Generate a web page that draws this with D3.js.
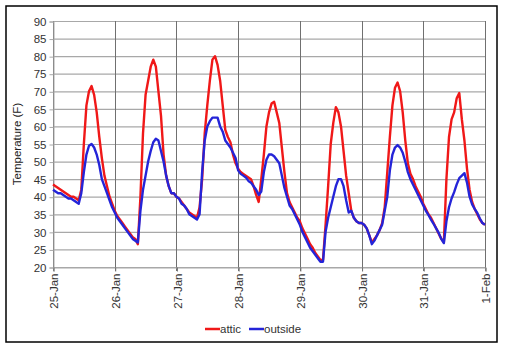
<!DOCTYPE html>
<html><head><meta charset="utf-8">
<script src="https://cdn.jsdelivr.net/npm/d3@7"></script>
<style>body{margin:0;background:#fff}svg{display:block}text{font-family:"Liberation Sans",Arial,sans-serif}</style>
</head><body><svg id="c" width="505" height="348"></svg>
<script>
const dayLabels = ["25-Jan","26-Jan","27-Jan","28-Jan","29-Jan","30-Jan","31-Jan","1-Feb"];
const yTicks = [20,25,30,35,40,45,50,55,60,65,70,75,80,85,90];
// hourly readings starting 25-Jan 00:00
const attic = [43.5,43,42.5,42,41.5,41,40.5,40,40,39.5,39,42,55,66,70,71.5,69,64,57,51,46,43,40,38,
36,34.5,33.5,32.5,31.5,30.5,29.5,28.5,28,26.5,40,58,69,73,77,79,77,70,63,52,46,43,41,41,
40,39.5,38.5,37.5,36.5,35.5,35,34.5,34,37,45,58,66,73,79,80,77.5,73,66,59,57,55.5,52,49.5,
48,47,46.5,46,45.5,45,43,40.5,38.5,45,52,60,64,66.5,67,64,61,54,47,41,38.5,37,35.5,34,
33,31,29.5,28,26.5,25.5,24,23,22,22,32,43,55,61,65.5,64,60,53,46,41,36,34,33,32.5,
32.5,32,31,29,27,28,29,30.5,32.5,37,47,57,66,71,72.5,70,64,56,49.5,46.5,45,43,41.5,40,
38,36.5,35,34,32.5,31,29.5,28,27,45,57,62,64,68,69.5,62,56,48,42,38.5,36.5,35,33.5,32.5,32];
const outside = [42,41.5,41,41,40.5,40,39.5,39.5,39,38.5,38,41,47,52,54.5,55,54,52,49,45,43,41,39,37,
35.5,34,33,32,31,30,29,28,27.5,27,36,42,46,50,53,55.5,56.5,56,53,50,46,43,41,41,
40,39.5,38,37.5,36.5,35,34.5,34,33.5,35,47,56,60,61.5,62.5,62.5,62.5,60,58.5,56,55,54,52.5,51,
47.5,46.5,46,45.5,44.5,44,43,42,40.5,41.5,47,50.5,52,52,51.5,50.5,49.5,46,42.5,40,37.5,36.5,35,33.5,
32,30,28.5,27,25.5,24.5,23.5,22.5,21.5,21.5,30,34,37,40,43,45,45,43,39,35.5,36,34,33,32.5,
32.5,32,31,29,26.5,27.5,29,30.5,32,36,40,47.5,52,54,54.7,54,52.5,50,47,45,43.5,42,40.5,39,
37.5,36,34.8,33.5,32.3,31,29.7,28,26.8,33,37,39.5,41.3,43.5,45.3,46,46.7,44,40,37.8,36.5,35.4,33.8,32.5,32];
const seriesNames = ["attic","outside"];
const seriesColors = ["#f01818","#2424d8"];

const svg = d3.select("#c");
svg.append("rect").attr("x",6).attr("y",6).attr("width",491).attr("height",336)
  .attr("fill","#fff").attr("stroke","#000").attr("stroke-width",1.5);

const L=53,R=485,T=21,B=267;
const x = d3.scaleLinear().domain([0,168]).range([L,R]);
const y = d3.scaleLinear().domain([20,90]).range([B,T]);

// horizontal grid
svg.append("g").selectAll("line").data(yTicks).join("line")
  .attr("x1",L).attr("x2",R).attr("y1",d=>y(d)+0.5).attr("y2",d=>y(d)+0.5)
  .attr("stroke","#a8a8a8").attr("stroke-width",1.2);
// vertical grid
svg.append("g").selectAll("line").data(dayLabels.map((d,i)=>i)).join("line")
  .attr("x1",d=>Math.round(x(d*24))+0.5).attr("x2",d=>Math.round(x(d*24))+0.5).attr("y1",T).attr("y2",B+4)
  .attr("stroke","#707070").attr("stroke-width",1);

// y axis
const ya = d3.axisLeft(y).tickValues(yTicks).tickSize(4).tickPadding(3);
const gy = svg.append("g").attr("transform",`translate(${L+0.5},0.5)`).call(ya);
gy.select(".domain").attr("stroke","#a8a8a8");
gy.selectAll(".tick line").attr("stroke","#a8a8a8");
gy.selectAll("text").attr("font-size",11.5).attr("fill","#333");

// x axis
const xa = d3.axisBottom(x).tickValues(d3.range(0,169,24)).tickFormat((d,i)=>dayLabels[i]).tickSize(4).tickPadding(3);
const gx = svg.append("g").attr("transform",`translate(0.5,${B+0.5})`).call(xa);
gx.select(".domain").attr("stroke","#a8a8a8");
gx.selectAll(".tick line").attr("stroke","#707070");
gx.selectAll("text").attr("font-size",11.5).attr("fill","#333")
  .attr("transform","rotate(-90)").attr("text-anchor","end").attr("dx",0).attr("dy","0.36em").attr("y",0).attr("x",-6);

// title
svg.append("text").attr("transform","translate(21,144) rotate(-90)").attr("text-anchor","middle")
  .attr("font-size",11.5).attr("fill","#222").text("Temperature (F)");

const line = d3.line().x((d,i)=>x(i)).y(d=>y(d));
[attic,outside].forEach((s,k)=>{
  svg.append("path").datum(s).attr("d",line).attr("fill","none")
    .attr("stroke",seriesColors[k]).attr("stroke-width",2.4).attr("stroke-linejoin","round");
});

// legend
const lg = svg.append("g");
const lx=[205,249];
seriesNames.forEach((n,k)=>{
  lg.append("line").attr("x1",lx[k]).attr("x2",lx[k]+15).attr("y1",329).attr("y2",329)
    .attr("stroke",seriesColors[k]).attr("stroke-width",2.5);
  lg.append("text").attr("x",lx[k]+15).attr("y",333).attr("font-size",11.5).attr("fill","#333").text(n);
});
</script></body></html>
